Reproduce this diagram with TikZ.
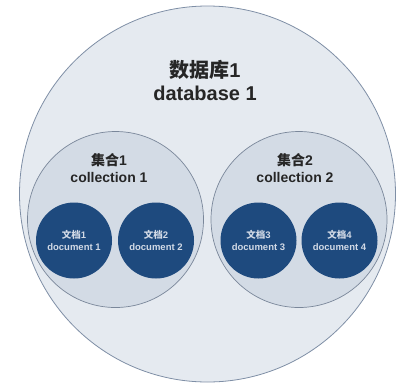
\documentclass[tikz,border=0pt]{standalone}
\usepackage{fontspec}
\setmainfont{Liberation Sans}
\newfontfamily\cjk{Noto Sans CJK SC}
\definecolor{dbfill}{HTML}{E5EAF0}
\definecolor{dbline}{HTML}{7F8FA6}
\definecolor{colfill}{HTML}{D3DBE5}
\definecolor{colline}{HTML}{7A879A}
\definecolor{docfill}{HTML}{1E4A7E}
\definecolor{doctext}{HTML}{D2DAE6}
\begin{document}
\begin{tikzpicture}[x=1pt,y=-1pt,
  db/.style={circle,draw=dbline,fill=dbfill,line width=0.8pt,minimum size=376pt,inner sep=0pt},
  coll/.style={circle,draw=colline,fill=colfill,line width=0.7pt,minimum size=176pt,inner sep=0pt},
  doc/.style={circle,fill=docfill,minimum size=76pt,inner sep=0pt},
  bigtxt/.style={font=\fontsize{20}{23}\selectfont\bfseries,align=center,text=black!85},
  coltxt/.style={font=\fontsize{14}{17}\selectfont\bfseries,align=center,text=black!85},
  doctxt/.style={font=\fontsize{9.5}{12}\selectfont\bfseries,align=center,text=doctext}]
\useasboundingbox (0,0) rectangle (414,389);
\node[db] (db) at (207.5,194) {};
\node[coll] (c1) at (115.5,219.5) {};
\node[coll] (c2) at (299,219.5) {};
\node[doc] (d1) at (74,240.5) {};
\node[doc] (d2) at (156,240.5) {};
\node[doc] (d3) at (258.5,240.5) {};
\node[doc] (d4) at (339.5,240.5) {};
\node[bigtxt] (dbl) at (205,80.5) {{\cjk 数据库}1\\database 1};
\node[coltxt] (c1l) at (109,168.5) {{\cjk 集合}1\\collection 1};
\node[coltxt] (c2l) at (295,168.5) {{\cjk 集合}2\\collection 2};
\node[doctxt] (d1l) at (d1) {{\cjk 文档}1\\document 1};
\node[doctxt] (d2l) at (d2) {{\cjk 文档}2\\document 2};
\node[doctxt] (d3l) at (d3) {{\cjk 文档}3\\document 3};
\node[doctxt] (d4l) at (d4) {{\cjk 文档}4\\document 4};
\end{tikzpicture}
\end{document}
